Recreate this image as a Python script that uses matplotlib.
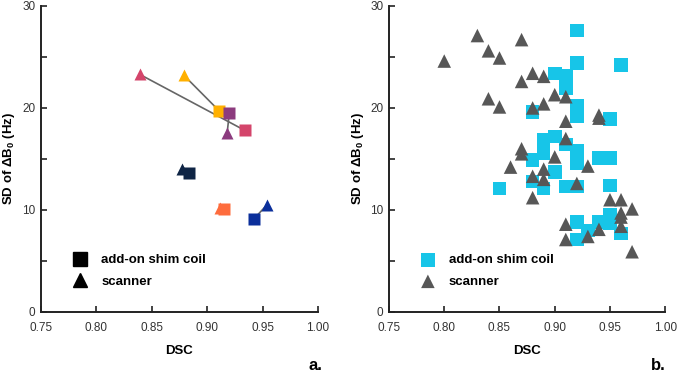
import matplotlib
matplotlib.use("Agg")
from matplotlib import pyplot as plt
from matplotlib.lines import Line2D
from matplotlib.ticker import MultipleLocator

plt.rcParams['font.family'] = ['Liberation Sans', 'DejaVu Sans']
plt.rcParams['mathtext.fontset'] = 'custom'
plt.rcParams['mathtext.rm'] = 'Liberation Sans'
plt.rcParams['mathtext.bf'] = 'Liberation Sans:bold'

# panel a: paired subjects (scanner shim -> add-on shim coil)
subj_colors = ['#d4456b', '#ffb000', '#8c3b7e', '#0f2545', '#fe6c3d', '#0b2f9b']
scanner_dsc_a = [0.839, 0.879, 0.918, 0.877, 0.912, 0.954]
scanner_sd_a = [23.3, 23.2, 17.5, 14.0, 10.2, 10.5]
coil_dsc_a = [0.934, 0.911, 0.920, 0.884, 0.915, 0.942]
coil_sd_a = [17.8, 19.7, 19.5, 13.6, 10.1, 9.1]

# panel b: all measurements
coil_dsc_b = [0.92, 0.92, 0.96, 0.90, 0.91, 0.91, 0.92, 0.92, 0.88, 0.95,
              0.89, 0.90, 0.91, 0.92, 0.89, 0.88, 0.92, 0.94, 0.95, 0.90,
              0.88, 0.89, 0.91, 0.92, 0.85, 0.95, 0.96, 0.95, 0.95, 0.94,
              0.93, 0.92, 0.92]
coil_sd_b = [27.6, 24.4, 24.2, 23.4, 23.2, 21.9, 20.2, 19.2, 19.6, 18.9,
             16.9, 17.2, 16.4, 15.8, 15.6, 14.9, 14.6, 15.1, 15.1, 13.7,
             12.8, 12.1, 12.3, 12.3, 12.1, 12.4, 7.7, 9.5, 8.7, 8.8,
             8.0, 8.8, 7.1]
scanner_dsc_b = [0.80, 0.83, 0.84, 0.85, 0.87, 0.88, 0.89, 0.87, 0.84, 0.85,
                 0.88, 0.89, 0.90, 0.91, 0.91, 0.94, 0.94, 0.91, 0.87, 0.87,
                 0.90, 0.86, 0.93, 0.89, 0.88, 0.89, 0.92, 0.88, 0.95, 0.96,
                 0.97, 0.96, 0.96, 0.96, 0.91, 0.94, 0.93, 0.91, 0.97]
scanner_sd_b = [24.6, 27.1, 25.6, 24.9, 26.7, 23.4, 23.1, 22.6, 20.9, 20.1,
                20.0, 20.4, 21.3, 21.1, 18.7, 19.3, 19.0, 17.0, 16.0, 15.5,
                15.2, 14.2, 14.3, 14.0, 13.3, 13.0, 12.6, 11.2, 11.0, 11.0,
                10.1, 9.7, 9.3, 8.4, 8.6, 8.1, 7.4, 7.1, 5.9]

cyan = '#17c5e8'
gray = '#575757'


def style_axes(ax):
    ax.set_xlim(0.75, 1.0)
    ax.set_ylim(0, 30)
    ax.xaxis.set_major_locator(MultipleLocator(0.05))
    ax.yaxis.set_major_locator(MultipleLocator(10))
    ax.yaxis.set_minor_locator(MultipleLocator(5))
    ax.xaxis.set_major_formatter(plt.FuncFormatter(lambda v, p: f"{v:.2f}"))
    for s in ['top', 'right']:
        ax.spines[s].set_visible(False)
    for s in ['left', 'bottom']:
        ax.spines[s].set_linewidth(1.4)
        ax.spines[s].set_color('#222222')
    ax.tick_params(which='both', direction='in', length=4.5, width=1.2,
                   color='#222222', labelsize=8.5, labelcolor='#333333')
    ax.tick_params(axis='x', pad=7)
    ax.tick_params(axis='y', pad=4)
    ax.set_xlabel("DSC", fontsize=9.5, fontweight='bold', labelpad=8)
    ax.set_ylabel(r"SD of $\mathbf{\Delta B_0}$ (Hz)", fontsize=9.5,
                  fontweight='bold')
    # label anchored by its right edge (rotated text)
    ax.yaxis.set_label_coords(-0.085, 0.5)


fig = plt.figure(figsize=(6.77, 3.74), dpi=100)
ax1 = fig.add_axes([0.0606, 0.166, 0.409, 0.818])
ax2 = fig.add_axes([0.5746, 0.166, 0.408, 0.818])

# panel a
for i, c in enumerate(subj_colors):
    ax1.plot([scanner_dsc_a[i], coil_dsc_a[i]], [scanner_sd_a[i], coil_sd_a[i]],
             color='#666666', lw=1.2, zorder=1)
for i, c in enumerate(subj_colors):
    ax1.plot(scanner_dsc_a[i], scanner_sd_a[i], '^', color=c, ms=9,
             mec='none', zorder=2)
    ax1.plot(coil_dsc_a[i], coil_sd_a[i], 's', color=c, ms=9,
             mec='none', zorder=3)
style_axes(ax1)
h1 = [Line2D([], [], marker='s', ls='none', color='black', ms=10),
      Line2D([], [], marker='^', ls='none', color='black', ms=10)]
ax1.legend(h1, ['add-on shim coil', 'scanner'], loc='lower left',
           bbox_to_anchor=(0.05, 0.04), frameon=False,
           prop={'weight': 'bold', 'size': 9.5}, handletextpad=0.6,
           labelspacing=0.7)

# panel b
ax2.scatter(coil_dsc_b, coil_sd_b, marker='s', s=95, color=cyan,
            edgecolors='none', zorder=2, label='add-on shim coil')
ax2.scatter(scanner_dsc_b, scanner_sd_b, marker='^', s=95, color=gray,
            edgecolors='none', zorder=3, label='scanner')
style_axes(ax2)
ax2.legend(loc='lower left', bbox_to_anchor=(0.05, 0.04), frameon=False,
           prop={'weight': 'bold', 'size': 9.5}, handletextpad=0.6,
           labelspacing=0.7, scatterpoints=1)

fig.text(0.455, 0.012, "a.", fontsize=12, fontweight='bold')
fig.text(0.962, 0.012, "b.", fontsize=12, fontweight='bold')

fig.savefig("out.png", dpi=100)
